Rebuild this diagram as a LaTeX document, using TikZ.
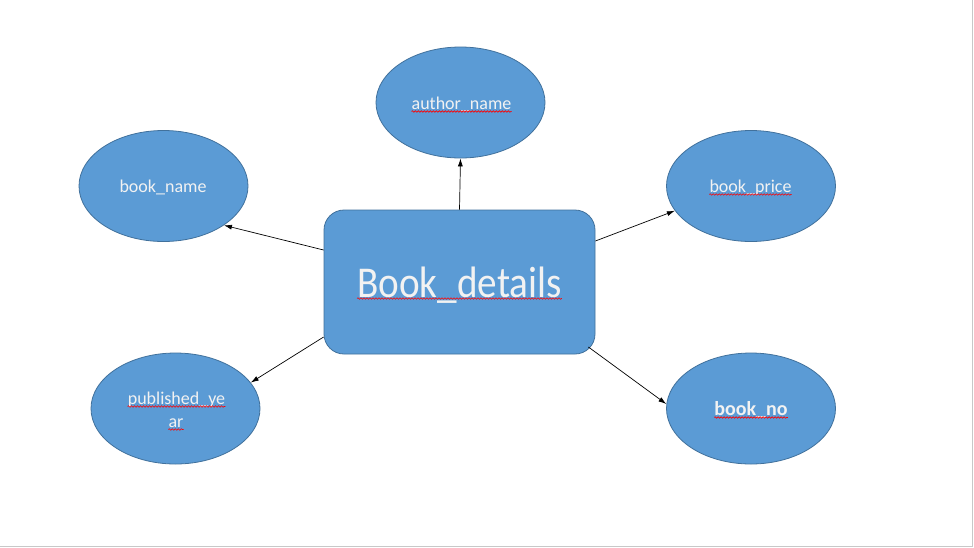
\documentclass[tikz,border=0pt]{standalone}
\usepackage{fontspec}
\setmainfont{Carlito}
\usetikzlibrary{shapes.geometric,arrows.meta,decorations.pathmorphing}
\definecolor{fillblue}{HTML}{5B9BD5}
\definecolor{edgeblue}{HTML}{41719C}
\definecolor{txt}{HTML}{F2F2F2}
\definecolor{framegray}{HTML}{C8C8C8}
\begin{document}
\begin{tikzpicture}[x=1pt,y=-1pt,
  attr/.style={ellipse, draw=edgeblue, fill=fillblue, line width=0.8pt,
    minimum width=169pt, minimum height=111pt, inner sep=0pt},
  lbl/.style={text=txt, font=\fontsize{18}{21}\selectfont, inner sep=0pt, anchor=base},
  conn/.style={-{Latex[length=8pt,width=5pt]}, line width=0.7pt},
  spell/.style={decorate, decoration={snake, amplitude=0.8pt, segment length=3pt},
    draw=red, line width=0.6pt}]
\path[use as bounding box] (0,0) rectangle (974,547);
\fill[white] (0,0) rectangle (974,547);
\draw[framegray, line width=1pt] (0,546) -- (972,546) -- (972,0);

% entity box
\node[draw=edgeblue, fill=fillblue, rounded corners=20pt, line width=0.8pt,
  minimum width=271pt, minimum height=144pt, inner sep=0pt] (r) at (459.5,282) {};
\node[text=txt, inner sep=0pt, anchor=base, font=\fontsize{44}{50}\selectfont]
  (rt) at (459.5,297) {\scalebox{0.89}[1]{Book\_details}};

% attributes
\node[attr] (an) at (460.5,102.5) {};
\node[lbl] (ant) at (461.5,109) {author\_name};
\node[attr] (bn) at (163.5,186) {};
\node[lbl] (bnt) at (163,192) {book\_name};
\node[attr] (bp) at (751,186) {};
\node[lbl] (bpt) at (750.5,192) {book\_price};
\node[attr] (py) at (175.5,408.5) {};
\node[lbl] (pyt1) at (176.5,404) {published\_ye};
\node[lbl] (pyt2) at (176,427) {ar};
\node[attr] (bno) at (751,408.5) {};
\node[lbl, font=\fontsize{20}{24}\selectfont\bfseries] (bnot) at (751,415) {book\_no};

% spelling underlines
\draw[spell] ([yshift=-2.5pt]ant.base west) -- ([yshift=-2.5pt]ant.base east);
\draw[spell] ([yshift=-2.5pt]bpt.base west) -- ([yshift=-2.5pt]bpt.base east);
\draw[spell] ([yshift=-2.5pt]pyt1.base west) -- ([yshift=-2.5pt]pyt1.base east);
\draw[spell] ([yshift=-2.5pt]pyt2.base west) -- ([yshift=-2.5pt]pyt2.base east);
\draw[spell] ([yshift=-2.5pt]bnot.base west) -- ([yshift=-2.5pt]bnot.base east);
\draw[spell] ([yshift=-1.5pt]rt.base west) -- ([yshift=-1.5pt]rt.base east);

% connectors
\draw[conn] (r.north) -- (an.south);
\draw[conn] ([yshift=32pt]r.west) -- (bn.-33);
\draw[conn] ([yshift=41pt]r.east) -- (bp.198);
\draw[conn] ([yshift=-55pt]r.west) -- (py.19);
\draw[conn] ([xshift=-7pt,yshift=-65pt]r.east) -- (bno.177);
\end{tikzpicture}
\end{document}
